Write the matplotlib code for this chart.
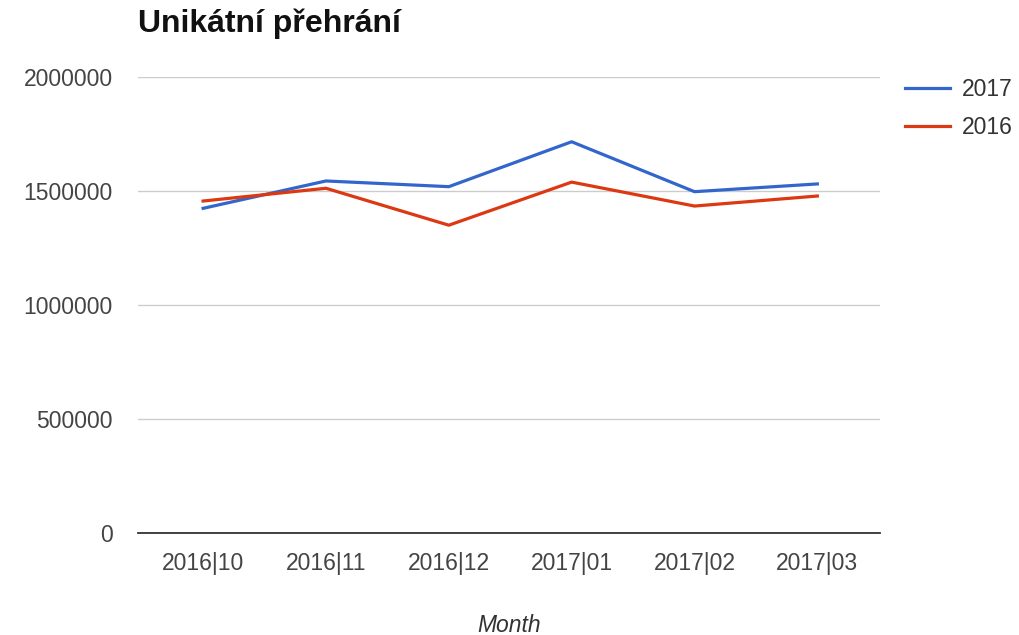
import matplotlib
matplotlib.use("Agg")
import matplotlib.pyplot as plt

plt.rcParams['font.family'] = ['Liberation Sans', 'DejaVu Sans']

months = ["2016|10", "2016|11", "2016|12", "2017|01", "2017|02", "2017|03"]
plays_2017 = [1424000, 1544000, 1519000, 1716000, 1497000, 1531000]
plays_2016 = [1456000, 1512000, 1350000, 1539000, 1434000, 1478000]
yticks = [0, 500000, 1000000, 1500000, 2000000]

fig = plt.figure(figsize=(10.2, 6.35), dpi=100)
ax = fig.add_axes([138/1020, 1 - 533/635, 742/1020, 456/635])

x = list(range(len(months)))
l1, = ax.plot(x, plays_2017, color='#3366cc', lw=2.3, label='2017')
l2, = ax.plot(x, plays_2016, color='#dc3912', lw=2.3, label='2016')

ax.set_xlim(-0.53, 5.51)
ax.set_ylim(0, 2000000)
ax.set_yticks(yticks)
ax.set_yticklabels([str(v) for v in yticks])
ax.set_xticks(x)
ax.set_xticklabels(months)
ax.grid(axis='y', color='#cccccc', lw=1)
ax.set_axisbelow(True)
for s in ['top', 'right', 'left']:
    ax.spines[s].set_visible(False)
ax.spines['bottom'].set_color('#333333')
ax.spines['bottom'].set_linewidth(1.3)
ax.tick_params(axis='both', length=0, labelsize=16.5, colors='#444444')
ax.tick_params(axis='y', pad=18)
ax.tick_params(axis='x', pad=14)

fig.text(138/1020, 1 - 24/635, "Unikátní přehrání", fontsize=23, fontweight='bold',
         color='#111111', va='center', ha='left')
fig.text(509/1020, 1 - 625/635, "Month", fontsize=16.5, style='italic',
         color='#333333', ha='center', va='center')

fig.legend(handles=[l1, l2], loc='upper left', bbox_to_anchor=(905/1020, 1 - 78/635),
           frameon=False, fontsize=16.5, handlelength=1.95, labelspacing=0.65,
           handletextpad=0.52, borderpad=0, borderaxespad=0, labelcolor='#333333')

fig.savefig("out.png", dpi=100)
